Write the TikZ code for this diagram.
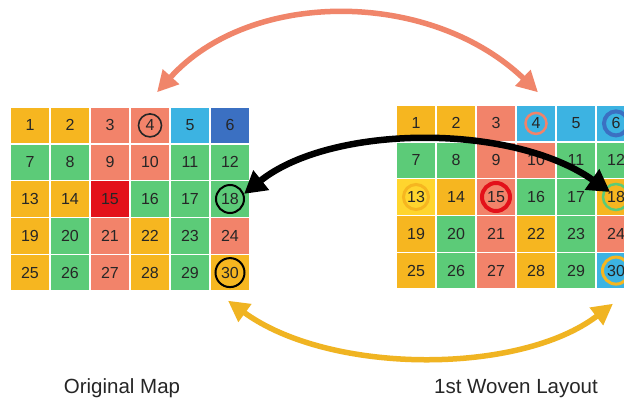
\documentclass[tikz,border=0pt]{standalone}
\usepackage{fontspec}
\setmainfont{Liberation Sans}
\usetikzlibrary{arrows.meta}
\definecolor{cY}{HTML}{F6B620}
\definecolor{cS}{HTML}{F2836A}
\definecolor{cG}{HTML}{5CCB78}
\definecolor{cB}{HTML}{3CB3E2}
\definecolor{cD}{HTML}{3B70C2}
\definecolor{cR}{HTML}{E3111A}
\definecolor{cL}{HTML}{FFD52E}
\definecolor{txt}{HTML}{262626}
\definecolor{arrO}{HTML}{F0856A}
\definecolor{arrY}{HTML}{F0B422}
\tikzset{
  cell/.style={rectangle, minimum width=40pt, minimum height=36.8pt, draw=white,
    line width=1.4pt, inner sep=0pt, text=txt, font=\fontsize{16}{16}\selectfont},
  ring/.style={circle, inner sep=0pt, fill=none},
  lab/.style={anchor=base, text=txt, font=\fontsize{20.5}{24}\selectfont},
  bigarrow/.style={line width=#1, line cap=round},
}
\begin{document}
\begin{tikzpicture}[x=1pt,y=-1pt]
\useasboundingbox (0,0) rectangle (624,399);
\clip (0,0) rectangle (624,399);
\fill[white] (0,0) rectangle (624,399);
% left grid
\foreach \c [count=\i from 0] in {cY,cY,cS,cS,cB,cD,
  cG,cG,cS,cS,cG,cG,
  cY,cY,cR,cG,cG,cG,
  cY,cG,cS,cY,cG,cS,
  cY,cG,cS,cY,cG,cY}{
  \pgfmathtruncatemacro\col{mod(\i,6)}
  \pgfmathtruncatemacro\row{div(\i,6)}
  \pgfmathtruncatemacro\n{\i+1}
  \node[cell, fill=\c] (L\n) at ({30+40*\col},{125.4+36.8*\row}) {\n};
}
% right grid
\foreach \c [count=\i from 0] in {cY,cY,cS,cB,cB,cB,
  cG,cG,cS,cS,cG,cG,
  cL,cY,cS,cG,cG,cY,
  cY,cG,cS,cY,cG,cS,
  cY,cG,cS,cY,cG,cB}{
  \pgfmathtruncatemacro\col{mod(\i,6)}
  \pgfmathtruncatemacro\row{div(\i,6)}
  \pgfmathtruncatemacro\n{\i+1}
  \node[cell, fill=\c] (R\n) at ({416+40*\col},{123.4+36.8*\row}) {\n};
}
% rings, left
\node[ring, draw=txt, line width=1.6pt, minimum size=23pt] (cL4) at (L4) {};
\node[ring, draw=black, line width=2pt, minimum size=28pt] (cL18) at (L18) {};
\node[ring, draw=black, line width=2pt, minimum size=29pt] (cL30) at (L30) {};
% rings, right
\node[ring, draw=cS, line width=2.5pt, minimum size=21pt] (cR4) at (R4) {};
\node[ring, draw=cD, line width=4pt, minimum size=24pt] (cR6) at (R6) {};
\node[ring, draw=cY, line width=3pt, minimum size=25pt] (cR13) at (R13) {};
\node[ring, draw=cR, line width=4pt, minimum size=28pt] (cR15) at (R15) {};
\node[ring, draw=cG, line width=2.5pt, minimum size=26pt] (cR18) at (R18) {};
\node[ring, draw=cY, line width=3pt, minimum size=27pt] (cR30) at (R30) {};
% arrows
\draw[bigarrow=5.5pt, arrO, {Triangle[length=21pt,width=21pt]}-{Triangle[length=21pt,width=21pt]}]
  ([xshift=7pt,yshift=14pt]L4.north) .. controls (250,-11) and (430,-11) .. ([xshift=2pt,yshift=12pt]R4.north);
\draw[bigarrow=5.5pt, arrY, {Triangle[length=21pt,width=21pt]}-{Triangle[length=21pt,width=21pt]}]
  ([xshift=-2pt,yshift=-9pt]L30.south) .. controls (330,375) and (520,375) .. ([xshift=-3pt,yshift=-14pt]R30.south);
\draw[bigarrow=6.5pt, black, {Triangle[length=22pt,width=24pt]}-{Triangle[length=22pt,width=24pt]}]
  (cL18.20) .. controls (330,125) and (510,122) .. ([xshift=-6pt,yshift=5pt]R18.center);
% labels
\node[lab] (lo) at (122,393) {Original Map};
\node[lab] (lw) at (516,393) {1st Woven Layout};
\end{tikzpicture}
\end{document}
